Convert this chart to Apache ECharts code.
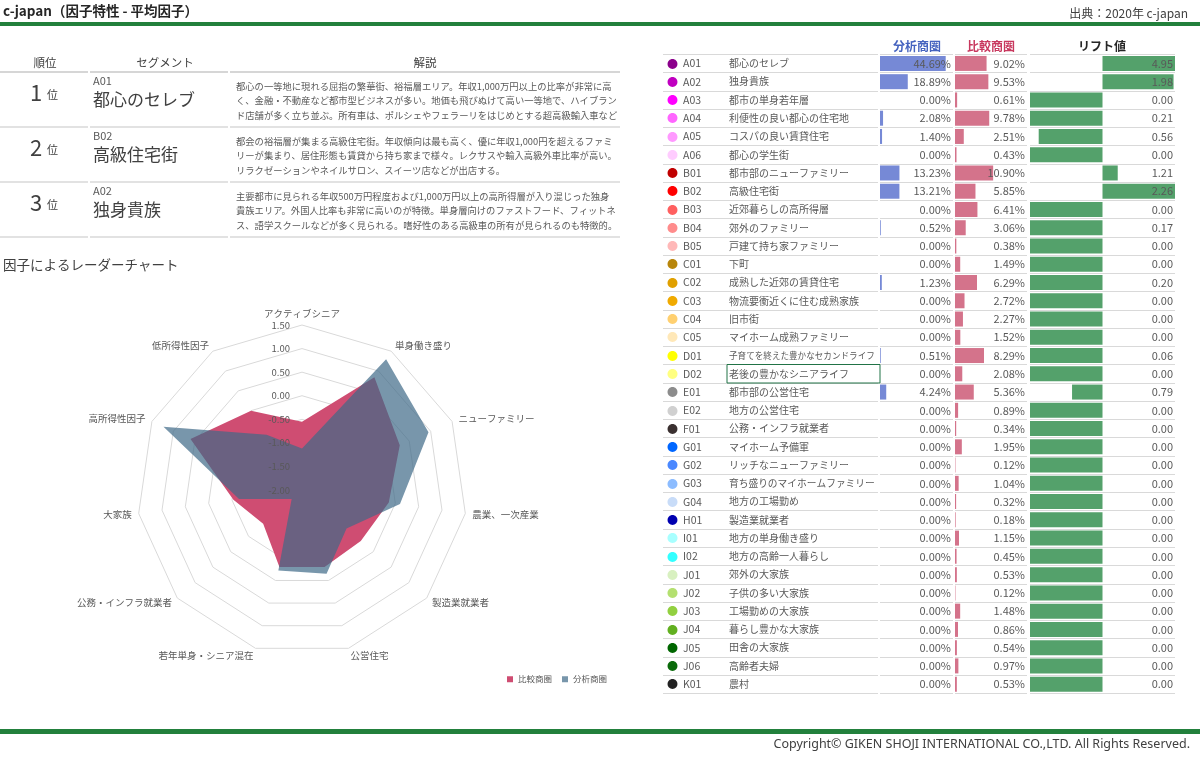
<!DOCTYPE html>
<html><head><meta charset="utf-8">
<script src="https://cdn.jsdelivr.net/npm/echarts@6/dist/echarts.min.js"></script>
<style>html,body{margin:0;padding:0;background:#fff;}#c{width:1200px;height:759px;}</style>
</head><body><div id="c"></div>
<script>
// ---------- data ----------
const segCodes = ['A01','A02','A03','A04','A05','A06','B01','B02','B03','B04','B05','C01','C02','C03','C04','C05','D01','D02','E01','E02','F01','G01','G02','G03','G04','H01','I01','I02','J01','J02','J03','J04','J05','J06','K01'];
const segNames = ['都心のセレブ','独身貴族','都市の単身若年層','利便性の良い都心の住宅地','コスパの良い賃貸住宅','都心の学生街','都市部のニューファミリー','高級住宅街','近郊暮らしの高所得層','郊外のファミリー','戸建て持ち家ファミリー','下町','成熟した近郊の賃貸住宅','物流要衝近くに住む成熟家族','旧市街','マイホーム成熟ファミリー','子育てを終えた豊かなセカンドライフ','老後の豊かなシニアライフ','都市部の公営住宅','地方の公営住宅','公務・インフラ就業者','マイホーム予備軍','リッチなニューファミリー','育ち盛りのマイホームファミリー','地方の工場勤め','製造業就業者','地方の単身働き盛り','地方の高齢一人暮らし','郊外の大家族','子供の多い大家族','工場勤めの大家族','暮らし豊かな大家族','田舎の大家族','高齢者夫婦','農村'];
const segDotColors = ['#8B008B','#C000C0','#FF00FF','#FF66FF','#FF99FF','#FFCCFF','#C00000','#FF0000','#FF6060','#FF8C8C','#FFB8B8','#B8860B','#E0A000','#F0AA00','#FFD070','#FFE8B8','#FFFF00','#FFFF80','#8C8C8C','#D0D0D0','#3A3030','#0066FF','#4A88FF','#8CBCFF','#C8DCF8','#0000B0','#A8FFFF','#33FFFF','#D8F0C0','#B4E070','#92D040','#62B020','#006600','#0A6A0A','#222222'];
const analysisPct = [44.69,18.89,0.00,2.08,1.40,0.00,13.23,13.21,0.00,0.52,0.00,0.00,1.23,0.00,0.00,0.00,0.51,0.00,4.24,0.00,0.00,0.00,0.00,0.00,0.00,0.00,0.00,0.00,0.00,0.00,0.00,0.00,0.00,0.00,0.00];
const comparePct = [9.02,9.53,0.61,9.78,2.51,0.43,10.90,5.85,6.41,3.06,0.38,1.49,6.29,2.72,2.27,1.52,8.29,2.08,5.36,0.89,0.34,1.95,0.12,1.04,0.32,0.18,1.15,0.45,0.53,0.12,1.48,0.86,0.54,0.97,0.53];
const liftValues = [4.95,1.98,0.00,0.21,0.56,0.00,1.21,2.26,0.00,0.17,0.00,0.00,0.20,0.00,0.00,0.00,0.06,0.00,0.79,0.00,0.00,0.00,0.00,0.00,0.00,0.00,0.00,0.00,0.00,0.00,0.00,0.00,0.00,0.00,0.00];

// radar factors, clockwise from the top
const radarFactors = ['アクティブシニア','単身働き盛り','ニューファミリー','農業、一次産業','製造業就業者','公営住宅','若年単身・シニア混在','公務・インフラ就業者','大家族','高所得性因子','低所得性因子'];
const radarCompare  = [-0.55, 0.84, 0.28, -0.14, -0.35, -0.30, -0.30, -0.91, -0.53, 0.60, 0.00];
const radarAnalysis = [-1.12, 1.30, 0.95,  0.10, -0.75, -0.15, -0.22, -1.71, -0.65, 1.23, -0.61];
const radarTicks = [-2.00, -1.50, -1.00, -0.50, 0.00, 0.50, 1.00, 1.50];

const rankLabels = ['1','2','3'];
const rankCodes = ['A01','B02','A02'];
const rankNames = ['都心のセレブ','高級住宅街','独身貴族'];
const rankDescs = [
 '都心の一等地に現れる屈指の繁華街、裕福層エリア。年収1,000万円以上の比率が非常に高く、金融・不動産など都市型ビジネスが多い。地価も飛びぬけて高い一等地で、ハイブランド店舗が多く立ち並ぶ。所有車は、ポルシェやフェラーリをはじめとする超高級輸入車など',
 '都会の裕福層が集まる高級住宅街。年収傾向は最も高く、優に年収1,000円を超えるファミリーが集まり、居住形態も賃貸から持ち家まで様々。レクサスや輸入高級外車比率が高い。リラクゼーションやネイルサロン、スイーツ店などが出店する。',
 '主要都市に見られる年収500万円程度および1,000万円以上の高所得層が入り混じった独身貴族エリア。外国人比率も非常に高いのが特徴。単身層向けのファストフード、フィットネス、語学スクールなどが多く見られる。嗜好性のある高級車の所有が見られるのも特徴的。'
];

// ---------- helpers ----------
const FONT = '"Noto Sans CJK JP","Noto Sans",sans-serif';
const GRID_TOP = 54.3, GRID_H = 639;
const liftVisual = liftValues.map(v => v >= 1 ? Math.min(v - 1, 1) : Math.max((v - 1) / 0.5, -1));
// ECharts radar runs counter-clockwise: reorder
const ccw = radarFactors.map((_, i) => i === 0 ? 0 : radarFactors.length - i);
const richLbl = { c: {width: 46, fontSize: 10.5, color: '#595959', fontFamily: FONT} };
segDotColors.forEach((col, i) => {
  richLbl['d' + i] = {width: 16, fontSize: 11, color: col, fontFamily: FONT};
  richLbl['n' + i] = {fontSize: Math.min(10, 146 / segNames[i].length), color: '#595959', fontFamily: FONT};
});

function catY(idx, opts) {
  return Object.assign({
    type: 'category', gridIndex: idx, data: segCodes, inverse: true,
    axisLine: {show: false}, axisTick: {show: false},
    splitLine: {show: true, interval: 0, lineStyle: {color: '#D9D9D9', width: 1}},
    z: 5
  }, opts);
}
function valLabel(arr, fmt) {
  return {show: true, inside: true, margin: 2, interval: 0, color: '#595959', fontSize: 11, fontFamily: FONT,
          formatter: (v, i) => fmt(arr[i])};
}

const graphics = [];
function txt(text, x, y, size, color, opts) {
  graphics.push({type: 'text', silent: true, style: Object.assign({text, x, y, fill: color, fontSize: size, fontFamily: FONT,
    textAlign: 'left', textVerticalAlign: 'middle'}, opts || {})});
}
function hline(x1, x2, y, color, w) {
  graphics.push({type: 'line', silent: true, shape: {x1, y1: y, x2, y2: y}, style: {stroke: color, lineWidth: w || 1}});
}
// header & footer
txt('c-japan（因子特性 - 平均因子）', 3, 11, 13.5, '#262626', {fontWeight: 'bold'});
txt('出典：2020年 c-japan', 1188, 13, 12, '#404040', {textAlign: 'right'});
graphics.push({type: 'rect', silent: true, shape: {x: 0, y: 22, width: 1200, height: 4}, style: {fill: '#22803C'}});
graphics.push({type: 'rect', silent: true, shape: {x: 0, y: 729, width: 1200, height: 5}, style: {fill: '#22803C'}});
txt('Copyright© GIKEN SHOJI INTERNATIONAL CO.,LTD. All Rights Reserved.', 1190, 744, 12.5, '#404040', {textAlign: 'right', fontFamily: '"Noto Sans",sans-serif'});
// left ranking table
txt('順位', 45, 63, 11.5, '#404040', {textAlign: 'center'});
txt('セグメント', 165, 63, 11.5, '#404040', {textAlign: 'center'});
txt('解説', 425, 63, 11.5, '#404040', {textAlign: 'center'});
[72, 127, 182, 237].forEach((y, k) => {
  const c = k === 0 ? '#C8C8C8' : '#D9D9D9';
  hline(0, 88, y, c, 1.5); hline(90, 228, y, c, 1.5); hline(230, 620, y, c, 1.5);
});
rankLabels.forEach((r, i) => {
  const top = 72 + 55 * i;
  txt(r, 30, top + 21, 22, '#404040');
  txt('位', 47, top + 23, 11, '#404040');
  txt(rankCodes[i], 93, top + 9, 11, '#595959');
  txt(rankNames[i], 93, top + 28, 17, '#404040');
  txt(rankDescs[i], 236, top + 7, 9.3, '#595959', {textVerticalAlign: 'top', width: 382, overflow: 'break', lineHeight: 14.5});
});
txt('因子によるレーダーチャート', 3, 265, 13.5, '#404040');
// right table headers
txt('分析商圏', 917, 46, 12, '#4563BF', {textAlign: 'center', fontWeight: 'bold'});
txt('比較商圏', 991, 46, 12, '#C8385E', {textAlign: 'center', fontWeight: 'bold'});
txt('リフト値', 1102, 46, 12, '#262626', {textAlign: 'center', fontWeight: 'bold'});
graphics.push({type: 'rect', silent: true, z: 10, shape: {x: 727, y: 364.5, width: 153, height: 18.5}, style: {fill: 'none', stroke: '#217346', lineWidth: 1}});

const radarIndicators = (withLabel) => ccw.map((k, j) => {
  const o = {name: radarFactors[k], min: radarTicks[0], max: radarTicks[radarTicks.length - 1]};
  if (!withLabel || j > 0) o.axisLabel = {show: false};
  return o;
});
const radarBase = {center: [302, 490], radius: 165, startAngle: 90, shape: 'polygon', splitNumber: radarTicks.length - 1,
  axisLine: {show: false}, axisTick: {show: false}, splitArea: {show: false}, nameGap: 7};

const chart = echarts.init(document.getElementById('c'), null, {renderer: 'canvas'});
chart.setOption({
  animation: false,
  textStyle: {fontFamily: FONT},
  graphic: graphics,
  legend: {
    left: 502, top: 670, icon: 'rect', itemWidth: 6, itemHeight: 6, itemGap: 10,
    textStyle: {fontSize: 8.5, color: '#595959', fontFamily: FONT},
    data: ['比較商圏', '分析商圏']
  },
  grid: [
    {left: 663, top: GRID_TOP, width: 215, height: GRID_H},
    {left: 880, top: GRID_TOP, width: 73, height: GRID_H},
    {left: 955, top: GRID_TOP, width: 72, height: GRID_H},
    {left: 1030, top: GRID_TOP, width: 145, height: GRID_H}
  ],
  xAxis: [
    {type: 'value', gridIndex: 0, min: 0, max: 1, show: false},
    {type: 'value', gridIndex: 1, min: 0, max: 49.66, show: false},
    {type: 'value', gridIndex: 2, min: 0, max: 20.57, show: false},
    {type: 'value', gridIndex: 3, min: -1, max: 1, show: false}
  ],
  yAxis: [
    catY(0, {axisLabel: {show: true, inside: true, margin: 4, interval: 0,
      formatter: (v, i) => `{d${i}|●}{c|${v}}{n${i}|${segNames[i]}}`, rich: richLbl}}),
    catY(1, {position: 'right', axisLabel: valLabel(analysisPct, v => v.toFixed(2) + '%')}),
    catY(2, {position: 'right', axisLabel: valLabel(comparePct, v => v.toFixed(2) + '%')}),
    catY(3, {position: 'right', axisLabel: valLabel(liftValues, v => v.toFixed(2))})
  ],
  radar: [
    Object.assign({}, radarBase, {
      z: 0,
      axisName: {color: '#595959', fontSize: 9.5, fontFamily: FONT},
      splitLine: {lineStyle: {color: '#D9D9D9', width: 1}},
      axisLabel: {show: false},
      indicator: radarIndicators(false)
    }),
    Object.assign({}, radarBase, {
      z: 10,
      axisName: {show: false},
      splitLine: {show: false},
      axisLabel: {show: true, color: '#595959', fontSize: 9.5, fontFamily: FONT, margin: 12,
        formatter: v => (+v).toFixed(2)},
      indicator: radarIndicators(true)
    })
  ],
  series: [
    {type: 'bar', xAxisIndex: 1, yAxisIndex: 1, data: analysisPct, barWidth: 15, itemStyle: {color: '#7689D6'}, silent: true},
    {type: 'bar', xAxisIndex: 2, yAxisIndex: 2, data: comparePct, barWidth: 15, itemStyle: {color: '#D4738B'}, silent: true},
    {type: 'bar', xAxisIndex: 3, yAxisIndex: 3, data: liftVisual, barWidth: 15, itemStyle: {color: '#54A16B'}, silent: true},
    {type: 'radar', radarIndex: 0, symbol: 'none', silent: true,
      lineStyle: {width: 0},
      data: [
        {name: '比較商圏', value: ccw.map(k => radarCompare[k]), itemStyle: {color: '#CF4D72'}, lineStyle: {width: 0}, areaStyle: {color: '#CF4D72', opacity: 1}},
        {name: '分析商圏', value: ccw.map(k => radarAnalysis[k]), itemStyle: {color: '#7896AB'}, lineStyle: {width: 0}, areaStyle: {color: '#3E6987', opacity: 0.7}}
      ]}
  ]
});
</script></body></html>
